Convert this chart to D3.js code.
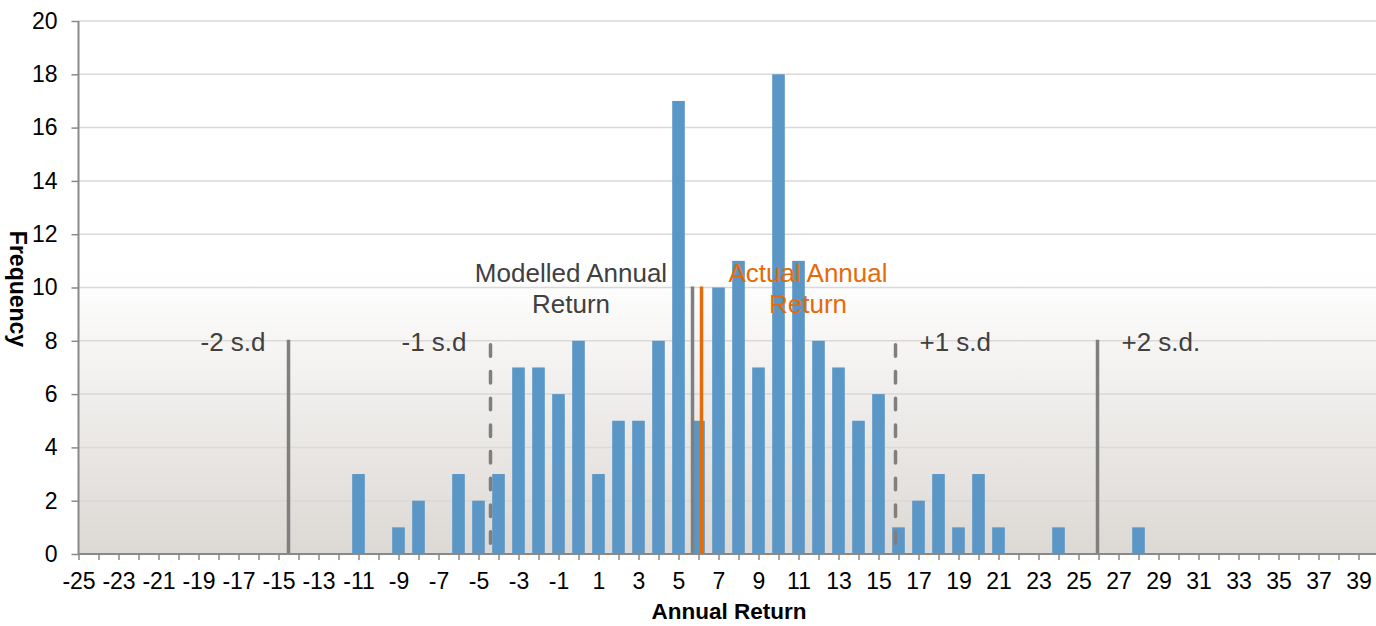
<!DOCTYPE html>
<html>
<head>
<meta charset="utf-8">
<script src="https://cdn.jsdelivr.net/npm/d3@7"></script>
<style>
  html, body { margin: 0; padding: 0; background: #fff; }
  svg { display: block; font-family: "Liberation Sans", Arial, sans-serif; }
</style>
</head>
<body>
<svg id="chart" width="1376" height="626"></svg>
<script>
// ---- data ----
const returns     = [-11, -9, -8, -6, -5, -4, -3, -2, -1, 0, 1, 2, 3, 4, 5, 6, 7, 8, 9, 10, 11, 12, 13, 14, 15, 16, 17, 18, 19, 20, 21, 24, 28];
const frequencies = [  3,  1,  2,  3,  2,  3,  7,  7,  6, 8, 3, 5, 5, 8,17, 5,10,11, 7, 18, 11,  8,  7,  5,  6,  1,  2,  3,  1,  3,  1,  1,  1];
const xTickLabels = d3.range(-25, 40, 2);
const yTickLabels = [0, 2, 4, 6, 8, 10, 12, 14, 16, 18, 20];
const markerNames  = ["-2 s.d", "-1 s.d", "+1 s.d", "+2 s.d.", "Modelled", "Actual"];
const markerValues = [-14.5, -4.4, 15.85, 25.95, 5.7, 6.15];
const markerHeights = [8, 8, 8, 8, 10, 10];

// ---- layout ----
const svg = d3.select("#chart");
const pLeft = 78.5, pRight = 1378.5, pTop = 21, pBottom = 554;
const x = d3.scaleLinear().domain([-25, 40]).range([pLeft, pRight]);
const y = d3.scaleLinear().domain([0, 20]).range([pBottom, pTop]);
const unit = x(1) - x(0);

// background gradient
const defs = svg.append("defs");
const grad = defs.append("linearGradient").attr("id", "bg").attr("x1", 0).attr("y1", 0).attr("x2", 0).attr("y2", 1);
grad.append("stop").attr("offset", "0").attr("stop-color", "#ffffff");
grad.append("stop").attr("offset", "0.47").attr("stop-color", "#ffffff");
grad.append("stop").attr("offset", "1").attr("stop-color", "#dcd8d4");
svg.append("rect").attr("x", pLeft).attr("y", pTop).attr("width", 1376 - pLeft).attr("height", pBottom - pTop).attr("fill", "url(#bg)");

// gridlines
svg.append("g").selectAll("line").data(yTickLabels.filter(d => d > 0)).join("line")
  .attr("x1", pLeft).attr("x2", 1376)
  .attr("y1", d => y(d)).attr("y2", d => y(d))
  .attr("stroke", "#d9d9d9").attr("stroke-width", 1.5);

// bars
svg.append("g").selectAll("rect").data(returns).join("rect")
  .attr("x", (d) => x(d) - unit * 0.315)
  .attr("width", unit * 0.63)
  .attr("y", (d, i) => y(frequencies[i]))
  .attr("height", (d, i) => y(0) - y(frequencies[i]))
  .attr("fill", "#5a96c6");

// marker lines
const markerStyle = [
  {c: "#7f7f7f", dash: null}, {c: "#7f7f7f", dash: "11.5 15.2"},
  {c: "#7f7f7f", dash: "11.5 15.2"}, {c: "#7f7f7f", dash: null},
  {c: "#7f7f7f", dash: null}, {c: "#e36c09", dash: null}
];
svg.append("g").selectAll("line").data(markerValues).join("line")
  .attr("x1", d => x(d)).attr("x2", d => x(d))
  .attr("y1", (d, i) => y(markerHeights[i]) + (markerStyle[i].dash ? 4 : -1))
  .attr("y2", pBottom)
  .attr("stroke", (d, i) => markerStyle[i].c)
  .attr("stroke-width", 3.5)
  .attr("stroke-linecap", (d, i) => markerStyle[i].dash ? "round" : "butt")
  .attr("stroke-dasharray", (d, i) => markerStyle[i].dash);

// axes
const xAxis = d3.axisBottom(x).tickValues(d3.range(-25, 40, 1)).tickSize(6)
  .tickFormat(d => xTickLabels.includes(d) ? String(d) : "");
const gx = svg.append("g").attr("transform", `translate(0,${pBottom})`).call(xAxis);
gx.select(".domain").attr("d", `M${pLeft},0H1376`).attr("stroke", "#898989").attr("stroke-width", 2);
gx.selectAll(".tick line").attr("stroke", "#898989").attr("stroke-width", 1.5);
gx.selectAll(".tick text").attr("font-size", 23).attr("fill", "#000").attr("y", 19)
  .attr("font-family", "Liberation Sans, Arial, sans-serif");

const yAxis = d3.axisLeft(y).tickValues(yTickLabels).tickSize(7).tickPadding(14);
const gy = svg.append("g").attr("transform", `translate(${pLeft},0)`).call(yAxis);
gy.select(".domain").attr("d", `M0,${pTop}V${pBottom}`).attr("stroke", "#898989").attr("stroke-width", 2);
gy.selectAll(".tick line").attr("stroke", "#898989").attr("stroke-width", 1.5);
gy.selectAll(".tick text").attr("font-size", 23).attr("fill", "#000")
  .attr("font-family", "Liberation Sans, Arial, sans-serif");

// axis titles
svg.append("text").attr("x", 729).attr("y", 619).attr("text-anchor", "middle")
  .attr("font-size", 22.5).attr("font-weight", "bold").text("Annual Return");
svg.append("text").attr("transform", `translate(10,289) rotate(90)`).attr("text-anchor", "middle")
  .attr("font-size", 23).attr("font-weight", "bold").text("Frequency");

// annotations
const ann = svg.append("g").attr("font-size", 26);
const sdY = y(8) + 10;
ann.append("text").attr("x", x(markerValues[0]) - 23).attr("y", sdY).attr("text-anchor", "end").attr("fill", "#404040").text(markerNames[0]);
ann.append("text").attr("x", x(markerValues[1]) - 24).attr("y", sdY).attr("text-anchor", "end").attr("fill", "#404040").text(markerNames[1]);
ann.append("text").attr("x", x(markerValues[2]) + 24).attr("y", sdY).attr("text-anchor", "start").attr("fill", "#404040").text(markerNames[2]);
ann.append("text").attr("x", x(markerValues[3]) + 24).attr("y", sdY).attr("text-anchor", "start").attr("fill", "#404040").text(markerNames[3]);

const m = ann.append("text").attr("text-anchor", "middle").attr("fill", "#404040");
m.append("tspan").attr("x", 571).attr("y", 282).text("Modelled Annual");
m.append("tspan").attr("x", 571).attr("y", 313).text("Return");
const a = ann.append("text").attr("text-anchor", "middle").attr("fill", "#e36c09");
a.append("tspan").attr("x", 808).attr("y", 282).text("Actual Annual");
a.append("tspan").attr("x", 808).attr("y", 313).text("Return");
</script>
</body>
</html>
